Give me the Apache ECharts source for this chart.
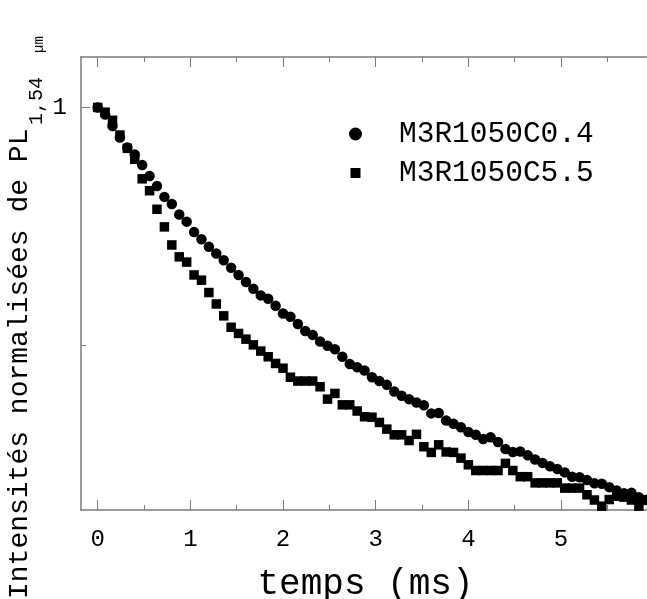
<!DOCTYPE html>
<html>
<head>
<meta charset="utf-8">
<title>Intensités normalisées</title>
<script src="https://cdn.jsdelivr.net/npm/echarts@6/dist/echarts.min.js"></script>
<style>
    html, body { margin: 0; padding: 0; background: #fff; }
    #chart { width: 647px; height: 599px; }
</style>
</head>
<body>
<div id="chart"></div>
<script>
/* data */
var seriesNames = ['M3R1050C0.4', 'M3R1050C5.5'];

var times = [
    0, 0.08, 0.16, 0.24, 0.32, 0.40, 0.48, 0.56, 0.64, 0.72,
    0.80, 0.88, 0.96, 1.04, 1.12, 1.20, 1.28, 1.36, 1.44, 1.52,
    1.60, 1.68, 1.76, 1.84, 1.92, 2.00, 2.08, 2.16, 2.24, 2.32,
    2.40, 2.48, 2.56, 2.64, 2.72, 2.80, 2.88, 2.96, 3.04, 3.12,
    3.20, 3.28, 3.36, 3.44, 3.52, 3.60, 3.68, 3.76, 3.84, 3.92,
    4.00, 4.08, 4.16, 4.24, 4.32, 4.40, 4.48, 4.56, 4.64, 4.72,
    4.80, 4.88, 4.96, 5.04, 5.12, 5.20, 5.28, 5.36, 5.44, 5.52,
    5.60, 5.68, 5.76, 5.84, 5.92
];

var circleValues = [
    1.000, 0.985, 0.961, 0.937, 0.916, 0.901, 0.879, 0.856, 0.835, 0.812,
    0.797, 0.775, 0.760, 0.738, 0.723, 0.707, 0.693, 0.679, 0.663, 0.648,
    0.633, 0.619, 0.605, 0.598, 0.583, 0.567, 0.560, 0.545, 0.530, 0.522,
    0.508, 0.499, 0.492, 0.476, 0.461, 0.454, 0.447, 0.433, 0.425, 0.417,
    0.403, 0.394, 0.387, 0.380, 0.374, 0.357, 0.358, 0.342, 0.335, 0.328,
    0.318, 0.312, 0.303, 0.307, 0.297, 0.282, 0.276, 0.277, 0.269, 0.260,
    0.253, 0.246, 0.240, 0.233, 0.224, 0.223, 0.217, 0.210, 0.209, 0.202,
    0.195, 0.189, 0.190, 0.181, 0.175
];

var squareValues = [
    1.000, 0.990, 0.973, 0.942, 0.914, 0.891, 0.850, 0.825, 0.786, 0.749,
    0.711, 0.686, 0.675, 0.648, 0.637, 0.611, 0.587, 0.562, 0.538, 0.525,
    0.513, 0.501, 0.488, 0.476, 0.462, 0.452, 0.433, 0.425, 0.425, 0.425,
    0.413, 0.387, 0.399, 0.375, 0.375, 0.362, 0.350, 0.349, 0.338, 0.324,
    0.312, 0.312, 0.300, 0.313, 0.287, 0.275, 0.291, 0.276, 0.275, 0.263,
    0.249, 0.237, 0.237, 0.237, 0.237, 0.252, 0.237, 0.224, 0.224, 0.211,
    0.211, 0.211, 0.211, 0.200, 0.200, 0.200, 0.186, 0.175, 0.162, 0.176,
    0.183, 0.181, 0.175, 0.162, 0.175
];

var xMajorTicks = [0, 1, 2, 3, 4, 5];
var xMinorTicks = [0.5, 1.5, 2.5, 3.5, 4.5, 5.5];
var yMajorTicks = [1];
var yMinorTicks = [0.5];

function pairs(xs, ys) {
    var out = [];
    for (var i = 0; i < xs.length; i++) {
        out.push([xs[i], ys[i]]);
    }
    return out;
}

var FONT = '"Liberation Mono", "DejaVu Sans Mono", monospace';
var AXIS_COLOR = '#7a7a7a';
var X_MIN = -0.18, X_MAX = 5.96;
var Y_MIN = 0.154, Y_MAX = 1.106;

function xAxisOf(pos, ticks, len, main) {
    return {
        type: 'value',
        position: pos,
        min: X_MIN,
        max: X_MAX,
        axisLine: { show: main, onZero: false, lineStyle: { color: AXIS_COLOR, width: 1.5 } },
        axisTick: { show: true, inside: true, length: len, customValues: ticks,
            lineStyle: { color: AXIS_COLOR, width: 1 } },
        axisLabel: (main && pos === 'bottom') ? {
            customValues: ticks, margin: 18, color: '#000',
            fontFamily: FONT, fontSize: 24
        } : { show: false },
        splitLine: { show: false },
        name: (main && pos === 'bottom') ? 'temps (ms)' : '',
        nameLocation: 'middle',
        nameGap: 56,
        nameTextStyle: { fontFamily: FONT, fontSize: 36, color: '#000' }
    };
}

function yAxisOf(ticks, len, main) {
    return {
        type: 'value',
        position: 'left',
        min: Y_MIN,
        max: Y_MAX,
        axisLine: { show: main, onZero: false, lineStyle: { color: AXIS_COLOR, width: 1.5 } },
        axisTick: { show: true, inside: true, length: len, customValues: ticks,
            lineStyle: { color: AXIS_COLOR, width: 1 } },
        axisLabel: main ? {
            customValues: ticks, margin: 14, color: '#000',
            fontFamily: FONT, fontSize: 24
        } : { show: false },
        splitLine: { show: false }
    };
}

var chart = echarts.init(document.getElementById('chart'), null, { renderer: 'canvas' });

var option = {
    animation: false,
    backgroundColor: '#fff',
    grid: { left: 81, top: 57, right: -3, bottom: 89, containLabel: false, outerBoundsMode: 'none' },
    xAxis: [
        xAxisOf('bottom', xMajorTicks, 10, true),
        xAxisOf('bottom', xMinorTicks, 5, false),
        xAxisOf('top', xMajorTicks, 10, true),
        xAxisOf('top', xMinorTicks, 5, false)
    ],
    yAxis: [
        yAxisOf(yMajorTicks, 9, true),
        yAxisOf(yMinorTicks, 5, false)
    ],
    legend: {
        orient: 'vertical',
        left: 344,
        top: 114,
        itemWidth: 13,
        itemHeight: 13,
        itemGap: 9,
        data: [
            { name: seriesNames[0], icon: 'circle' },
            { name: seriesNames[1], icon: 'path://M0,0L0.01,0M1.5,1.5h10v10h-10zM13,13L12.99,13' }
        ],
        textStyle: {
            fontFamily: FONT, fontSize: 29.5, color: '#000',
            lineHeight: 28, padding: [0, 0, 0, 32]
        }
    },
    graphic: [{
        type: 'group',
        x: 0,
        y: 599,
        rotation: Math.PI / 2,
        children: [
            { type: 'text', x: 0, y: 20,
              style: { text: 'Intensités normalisées de PL', fontFamily: FONT, fontSize: 28,
                       fill: '#000', align: 'left', verticalAlign: 'middle',
                       textAlign: 'left', textVerticalAlign: 'middle' } },
            { type: 'text', x: 474, y: 37,
              style: { text: '1,54', fontFamily: FONT, fontSize: 20,
                       fill: '#000', align: 'left', verticalAlign: 'middle',
                       textAlign: 'left', textVerticalAlign: 'middle' } },
            { type: 'text', x: 546, y: 39,
              style: { text: 'µm', fontFamily: FONT, fontSize: 14,
                       fill: '#000', align: 'left', verticalAlign: 'middle',
                       textAlign: 'left', textVerticalAlign: 'middle' } }
        ]
    }],
    series: [
        {
            name: seriesNames[0],
            type: 'scatter',
            xAxisIndex: 0,
            yAxisIndex: 0,
            symbol: 'circle',
            symbolSize: 10.5,
            z: 3,
            itemStyle: { color: '#000', opacity: 1 },
            data: pairs(times, circleValues)
        },
        {
            name: seriesNames[1],
            type: 'scatter',
            xAxisIndex: 0,
            yAxisIndex: 0,
            symbol: 'rect',
            symbolSize: 9.5,
            z: 2,
            itemStyle: { color: '#000', opacity: 1 },
            data: pairs(times, squareValues)
        }
    ]
};

chart.setOption(option);
</script>
</body>
</html>
